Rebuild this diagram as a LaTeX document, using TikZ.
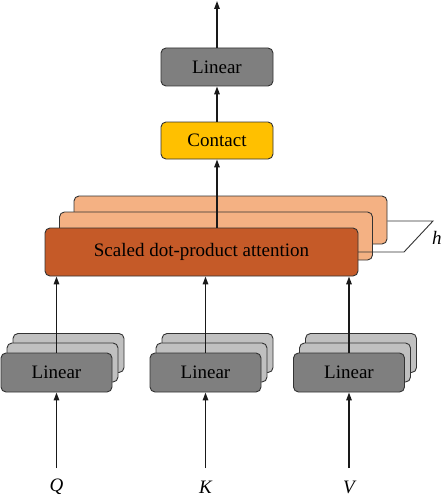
\documentclass[tikz,border=0pt]{standalone}
\usepackage{fontspec}
\setmainfont{Liberation Serif}
\usetikzlibrary{arrows.meta}
\usetikzlibrary{positioning}
\usetikzlibrary{calc}
\definecolor{lingray}{HTML}{7F7F7F}
\definecolor{laygray}{HTML}{C0C0C0}
\definecolor{attdark}{HTML}{C55A28}
\definecolor{attlight}{HTML}{F4B183}
\definecolor{contyellow}{HTML}{FFC000}
\definecolor{edge}{HTML}{333333}
\tikzset{
	blk/.style={draw=edge, line width=0.9pt, rounded corners=5pt,
		minimum width=112pt, minimum height=38pt, inner sep=0pt,
		font=\fontsize{19}{22}\selectfont},
	linblk/.style={blk, fill=lingray},
	layblk/.style={blk, fill=laygray},
	attblk/.style={blk, minimum width=313pt, minimum height=48pt},
	lbl/.style={font=\fontsize{19}{22}\selectfont\itshape},
	flow/.style={line width=1.4pt, black!90, -{Triangle[length=8pt,width=5.5pt]}}
}
\begin{document}
\begin{tikzpicture}[x=1pt,y=-1pt]
	\useasboundingbox (0,0) rectangle (442,500);

	% h heads
	\node[attblk, fill=attlight] (att2) at (230.5,220) {};
	\node[attblk, fill=attlight] (att1) at (216,236) {};
	\draw[line width=0.9pt, edge] (att2.east |- 0,221) -- (433,221) -- (404,252) -- (358,252);
	\node[attblk, fill=attdark] (att) at (201.5,252) {Scaled dot-product attention};
	\node[lbl, anchor=west, inner sep=0pt] (hlab) at (432,238) {h};

	\node[blk, fill=contyellow, minimum height=37pt] (cont) at (217,140.5) {Contact};
	\node[linblk] (lin) at (217,67) {Linear};
	\coordinate (out) at (217,1);

	% Q, K, V branches
	\foreach \n/\x/\lab in {q/56.5/Q, k/205.5/K, v/349/V}{
		\node[layblk, minimum width=111pt, minimum height=39pt] (\n2) at (\x+12,353) {};
		\node[layblk, minimum width=111pt, minimum height=39pt] (\n1) at (\x+6,362.5) {};
		\node[linblk, minimum width=111pt, minimum height=39pt] (\n) at (\x,372.5) {Linear};
		\node[lbl] (\n in) at (\x,487) {\lab};
		\coordinate (\n src) at (\x,468);
		\draw[flow] (\n src) -- (\n.south);
		\draw[flow] (\n.north) -- (\n.north |- att.south);
	}

	\draw[flow] (cont.south |- att.north) -- (cont.south);
	\draw[flow] (cont.north) -- (lin.south);
	\draw[flow] (lin.north) -- (out);
\end{tikzpicture}
\end{document}
